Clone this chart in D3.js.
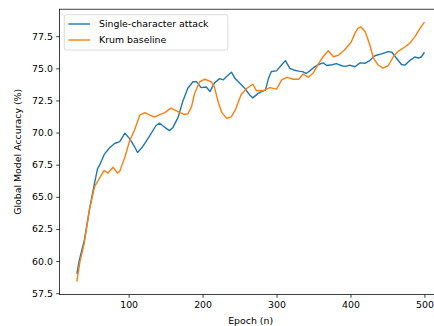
<!DOCTYPE html>
<html>
<head>
<meta charset="utf-8">
<script src="https://cdn.jsdelivr.net/npm/d3@7"></script>
<style>
  body { margin: 0; background: #fff; }
  svg { display: block; font-family: "DejaVu Sans", sans-serif; }
</style>
</head>
<body>
<div id="chart"></div>
<script>
// Single-character attack
const attackEpochs = [30, 33, 40, 47, 54, 58, 61, 67, 74, 81, 88, 95, 101, 108, 112, 119, 128, 137, 142, 149,
  155, 160, 167, 173, 180, 187, 192, 198, 205, 210, 216, 223, 228, 232, 239, 244, 250, 257, 264, 268,
  275, 282, 285, 289, 293, 300, 307, 312, 318, 323, 330, 336, 340, 345, 350, 356, 363, 368, 375, 381,
  388, 393, 399, 406, 413, 420, 426, 433, 442, 451, 456, 462, 469, 474, 480, 487, 492, 496, 500];
const attackAcc = [59.0, 60.0, 61.6, 64.0, 66.1, 67.2, 67.5, 68.3, 68.8, 69.15, 69.3, 69.95, 69.55, 68.9, 68.45, 68.9, 69.7, 70.55, 70.73, 70.4,
  70.15, 70.4, 71.2, 72.4, 73.45, 73.95, 73.95, 73.5, 73.55, 73.2, 73.85, 74.2, 74.1, 74.35, 74.7, 74.2, 73.85, 73.45, 72.9, 72.7,
  73.05, 73.25, 73.3, 74.2, 74.75, 74.8, 75.28, 75.6, 75.0, 74.87, 74.78, 74.72, 74.6, 74.8, 75.05, 75.28, 75.42, 75.22, 75.28, 75.37,
  75.2, 75.15, 75.25, 75.12, 75.42, 75.4, 75.6, 75.98, 76.12, 76.3, 76.25, 75.8, 75.3, 75.25, 75.6, 75.88, 75.8, 75.9, 76.25];

// Krum baseline
const krumEpochs = [30, 34, 40, 47, 54, 61, 67, 72, 79, 85, 88, 95, 101, 108, 115, 122, 128, 135, 142, 149,
  157, 166, 174, 180, 185, 189, 196, 203, 212, 216, 221, 226, 233, 239, 245, 252, 260, 268, 273, 282,
  291, 300, 307, 314, 323, 330, 336, 343, 350, 357, 363, 370, 377, 384, 392, 401, 406, 410, 414, 420,
  426, 431, 437, 444, 451, 458, 464, 474, 480, 487, 494, 500];
const krumAcc = [58.4, 59.9, 61.4, 64.0, 65.8, 66.5, 67.05, 66.85, 67.3, 66.85, 67.0, 68.1, 69.3, 70.2, 71.35, 71.55, 71.37, 71.2, 71.4, 71.55,
  71.9, 71.65, 71.43, 71.45, 72.0, 73.0, 73.95, 74.15, 73.95, 73.55, 72.4, 71.55, 71.1, 71.24, 71.85, 72.95, 73.45, 73.76, 73.25, 73.26,
  73.5, 73.38, 74.1, 74.3, 74.15, 74.15, 74.56, 74.3, 74.66, 75.39, 75.9, 76.37, 75.9, 76.03, 76.42, 77.05, 77.72, 78.1, 78.23, 77.85,
  76.85, 75.8, 75.28, 75.02, 75.2, 75.9, 76.3, 76.68, 76.94, 77.45, 78.1, 78.6];

const seriesNames = ["Single-character attack", "Krum baseline"];
const yTicks = [57.5, 60.0, 62.5, 65.0, 67.5, 70.0, 72.5, 75.0, 77.5];
const xTicks = [100, 200, 300, 400, 500];

const W = 434, H = 326;
const plot = { left: 59.5, top: 9.2, right: 441.8, bottom: 294.5 };
const fontSize = 9.4;

const svg = d3.select("#chart").append("svg")
  .attr("width", W)
  .attr("height", H);

// scales, matplotlib style 5% margins
const x = d3.scaleLinear().domain([6.5, 523.5]).range([plot.left, plot.right]);
const y = d3.scaleLinear().domain([57.4, 79.6]).range([plot.bottom, plot.top]);

const color = d3.scaleOrdinal().domain(seriesNames).range(["#1f77b4", "#ff7f0e"]);

const series = [
  { name: seriesNames[0], pts: attackEpochs.map((e, i) => [e, attackAcc[i]]) },
  { name: seriesNames[1], pts: krumEpochs.map((e, i) => [e, krumAcc[i]]) }
];

const line = d3.line().x(d => x(d[0])).y(d => y(d[1]));

svg.append("g")
  .selectAll("path")
  .data(series)
  .join("path")
  .attr("d", d => line(d.pts))
  .attr("fill", "none")
  .attr("stroke", d => color(d.name))
  .attr("stroke-width", 1.4)
  .attr("stroke-linejoin", "round");

// axes
const xAxis = svg.append("g")
  .attr("transform", `translate(0,${plot.bottom})`)
  .call(d3.axisBottom(x).tickValues(xTicks).tickSizeInner(3.3).tickSizeOuter(0).tickPadding(3.3));

const yAxis = svg.append("g")
  .attr("transform", `translate(${plot.left},0)`)
  .call(d3.axisLeft(y).tickValues(yTicks).tickFormat(d3.format(".1f")).tickSizeInner(3.3).tickSizeOuter(0).tickPadding(3.3));

[xAxis, yAxis].forEach(a => {
  a.selectAll("text").attr("font-size", fontSize).attr("fill", "#000").attr("font-family", "DejaVu Sans");
  a.selectAll("line").attr("stroke", "#000").attr("stroke-width", 0.75);
  a.select(".domain").remove();
});

// spines
svg.append("rect")
  .attr("x", plot.left)
  .attr("y", plot.top)
  .attr("width", plot.right - plot.left)
  .attr("height", plot.bottom - plot.top)
  .attr("fill", "none")
  .attr("stroke", "#000")
  .attr("stroke-width", 0.75);

// axis labels
svg.append("text")
  .attr("x", (plot.left + plot.right) / 2)
  .attr("y", 324)
  .attr("text-anchor", "middle")
  .attr("font-size", fontSize)
  .text("Epoch (n)");

svg.append("text")
  .attr("transform", `translate(20.5,${(plot.top + plot.bottom) / 2}) rotate(-90)`)
  .attr("text-anchor", "middle")
  .attr("font-size", fontSize)
  .text("Global Model Accuracy (%)");

// legend
const legend = svg.append("g");
legend.append("rect")
  .attr("x", 64.3)
  .attr("y", 14.7)
  .attr("width", 163.5)
  .attr("height", 35.3)
  .attr("rx", 2)
  .attr("fill", "#fff")
  .attr("fill-opacity", 0.8)
  .attr("stroke", "#d0d0d0")
  .attr("stroke-width", 0.75);

seriesNames.forEach((name, i) => {
  const row = legend.append("g").attr("transform", `translate(0,${24 + i * 16})`);
  row.append("line")
    .attr("x1", 68.3)
    .attr("x2", 90)
    .attr("stroke", color(name))
    .attr("stroke-width", 1.4);
  row.append("text")
    .attr("x", 99)
    .attr("dy", "0.35em")
    .attr("font-size", fontSize)
    .text(name);
});
</script>
</body>
</html>
